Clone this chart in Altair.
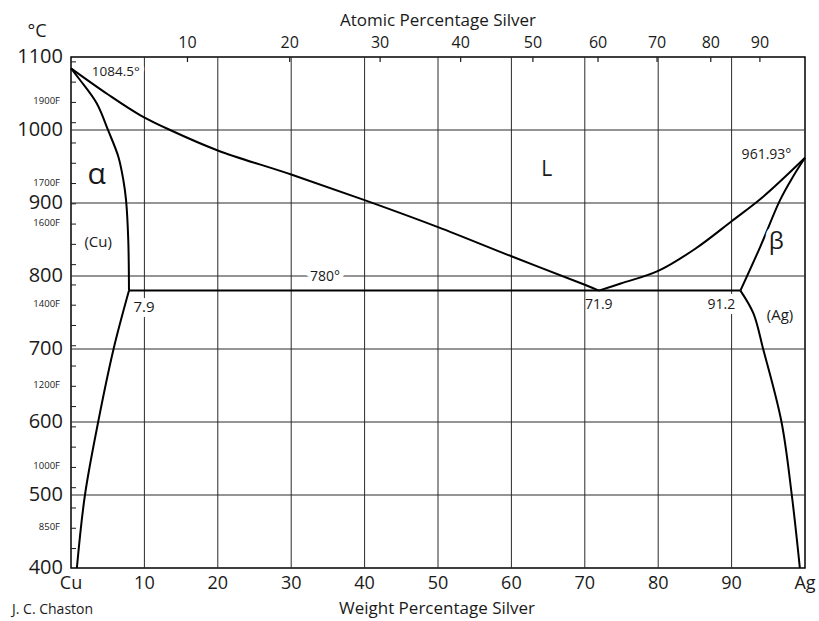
import altair as alt
import pandas as pd

FONT = "Open Sans"
INK = "#1a1a1a"
W, H = 734, 511

# ---- phase boundaries (weight % Ag, temperature °C) ----
liq_cu_wt = [0, 5, 9.4, 13.5, 20, 30, 40, 50, 60, 70, 71.9]
liq_cu_t = [1084.5, 1049, 1020.5, 1000, 972, 939, 904, 867, 827, 788, 780]
liq_ag_wt = [71.9, 75, 80, 85, 90, 94.3, 100]
liq_ag_t = [780, 790, 807, 837, 875, 908.6, 961.93]
sol_cu_wt = [0, 1.23, 3.5, 5.08, 6.45, 7.13, 7.5, 7.8, 7.9]
sol_cu_t = [1084.5, 1068.5, 1036.6, 999, 963.4, 931.5, 904, 850, 780]
solv_cu_wt = [7.9, 5.8, 3.7, 1.9, 0.8]
solv_cu_t = [780, 700, 600, 500, 400]
sol_ag_wt = [100, 98.3, 96.6, 93.9, 91.2]
sol_ag_t = [961.93, 935, 904, 840, 780]
solv_ag_wt = [91.2, 92.96, 94.3, 96.8, 98.2, 99.3]
solv_ag_t = [780, 749, 700, 600, 500, 400]
eut_wt = [7.9, 91.2]
eut_t = [780, 780]

# ---- axes ----
wt_ticks = list(range(0, 101, 10))
wt_labels = ["Cu", "10", "20", "30", "40", "50", "60", "70", "80", "90", "Ag"]
t_ticks = list(range(400, 1101, 100))
atomic_ticks = [10, 20, 30, 40, 50, 60, 70, 80, 90]
M_AG, M_CU = 107.87, 63.546
f_ticks = list(range(800, 2001, 50))
f_labels = [1900, 1700, 1600, 1400, 1200, 1000, 850]

# ---- annotations ----
ann_text = ["1084.5°", "961.93°", "780°", "7.9", "91.2", "(Cu)", "(Ag)", "α", "β", "L"]
ann_wt = [6.1, 94.75, 34.6, 9.95, 88.6, 3.7, 96.6, 3.5, 96.1, 64.8]
ann_t = [1079.5, 966, 799, 758, 760, 847, 746.6, 938, 847, 945]
ann_size = [13.5, 14, 14, 15, 14, 15, 15, 30, 24, 21]
plain_text = ["71.9"]
plain_wt = [71.9]
plain_t = [760]
plain_size = [14]

XS = alt.Scale(domain=[0, 100], nice=False, zero=False)
YS = alt.Scale(domain=[400, 1100], nice=False, zero=False)


def X(field):
    return alt.X(field, scale=XS, axis=None)


def Y(field):
    return alt.Y(field, scale=YS, axis=None)


# grid lines
vgrid = pd.DataFrame({"wt": wt_ticks[1:-1]})
hgrid = pd.DataFrame({"t": t_ticks[1:-1]})
vgrid_layer = alt.Chart(vgrid).mark_rule(color="#2a2a2a", strokeWidth=1).encode(
    x=X("wt:Q"), y=alt.value(0), y2=alt.value(H))
hgrid_layer = alt.Chart(hgrid).mark_rule(color="#2a2a2a", strokeWidth=1).encode(
    y=Y("t:Q"), x=alt.value(0), x2=alt.value(W))

# axis labels
xl = pd.DataFrame({"wt": wt_ticks, "lab": wt_labels})
xlab_layer = alt.Chart(xl).mark_text(font=FONT, fontSize=18, align="center",
                                     baseline="middle", color=INK).encode(
    x=X("wt:Q"), y=alt.value(H + 16), text="lab:N")
yl = pd.DataFrame({"t": t_ticks})
yl["lab"] = yl["t"].astype(str)
ylab_layer = alt.Chart(yl).mark_text(font=FONT, fontSize=20, align="right",
                                     baseline="middle", color=INK).encode(
    y=Y("t:Q"), x=alt.value(-8), text="lab:N")

rows = []
for name, ws, ts in [("liq_cu", liq_cu_wt, liq_cu_t), ("liq_ag", liq_ag_wt, liq_ag_t),
                     ("sol_cu", sol_cu_wt, sol_cu_t), ("solv_cu", solv_cu_wt, solv_cu_t),
                     ("sol_ag", sol_ag_wt, sol_ag_t), ("solv_ag", solv_ag_wt, solv_ag_t),
                     ("eut", eut_wt, eut_t)]:
    for i, (w, t) in enumerate(zip(ws, ts)):
        rows.append({"seg": name, "i": i, "wt": w, "t": t})
curves = pd.DataFrame(rows)

curve_layer = alt.Chart(curves).mark_line(color="black", strokeWidth=2,
                                          interpolate="catmull-rom").encode(
    x=X("wt:Q"), y=Y("t:Q"), detail="seg:N", order="i:Q")

# Fahrenheit ticks and labels on left edge
fdf = pd.DataFrame({"F": f_ticks})
fdf["c"] = (fdf["F"] - 32) * 5 / 9
f_tick_layer = alt.Chart(fdf).mark_rule(color=INK, strokeWidth=1).encode(
    x=alt.value(0), x2=alt.value(5), y=Y("c:Q"))
fl = pd.DataFrame({"F": f_labels})
fl["c"] = (fl["F"] - 32) * 5 / 9
fl["lab"] = fl["F"].astype(str) + "F"
f_lab_layer = alt.Chart(fl).mark_text(font=FONT, fontSize=9.5, align="right",
                                      baseline="middle", dy=-1, color=INK).encode(
    x=alt.value(-11), y=Y("c:Q"), text="lab:N")

# Atomic percentage (top) ticks and labels
adf = pd.DataFrame({"a": atomic_ticks})
adf["wt"] = 100 * adf["a"] * M_AG / (adf["a"] * M_AG + (100 - adf["a"]) * M_CU)
adf["lab"] = adf["a"].astype(str)
a_tick_layer = alt.Chart(adf).mark_rule(color=INK, strokeWidth=1.2).encode(
    x=X("wt:Q"), y=alt.value(0), y2=alt.value(5))
a_lab_layer = alt.Chart(adf).mark_text(font=FONT, fontSize=16, align="center",
                                       baseline="middle", color=INK).encode(
    x=X("wt:Q"), y=alt.value(-14), text="lab:N")

ann = pd.DataFrame({"text": ann_text, "wt": ann_wt, "t": ann_t, "size": ann_size})
halo = alt.Chart(ann).mark_text(font=FONT, align="center", baseline="middle",
                                color="white", stroke="white", strokeWidth=10,
                                strokeJoin="round").encode(
    x=X("wt:Q"), y=Y("t:Q"), text="text:N",
    size=alt.Size("size:Q", scale=None, legend=None))
ann_layer = alt.Chart(ann).mark_text(font=FONT, align="center", baseline="middle",
                                     color=INK).encode(
    x=X("wt:Q"), y=Y("t:Q"), text="text:N",
    size=alt.Size("size:Q", scale=None, legend=None))
plain = pd.DataFrame({"text": plain_text, "wt": plain_wt, "t": plain_t, "size": plain_size})
plain_layer = alt.Chart(plain).mark_text(font=FONT, align="center", baseline="middle",
                                         color=INK).encode(
    x=X("wt:Q"), y=Y("t:Q"), text="text:N",
    size=alt.Size("size:Q", scale=None, legend=None))

# Titles (placed in pixel space relative to the plot area)
title_text = ["Atomic Percentage Silver", "Weight Percentage Silver", "J. C. Chaston", "°C"]
title_px = [367, 366, -59, -34]
title_py = [-36, 552, 553, -25]
title_size = [17, 17, 14, 18]
title_align = ["center", "center", "left", "center"]
title_layers = []
for txt, px, py, sz, al in zip(title_text, title_px, title_py, title_size, title_align):
    title_layers.append(
        alt.Chart(pd.DataFrame({"t": [txt]})).mark_text(
            font=FONT, fontSize=sz, align=al, baseline="middle", color=INK
        ).encode(x=alt.value(px), y=alt.value(py), text="t:N")
    )

chart = alt.layer(
    vgrid_layer, hgrid_layer, xlab_layer, ylab_layer,
    curve_layer, f_tick_layer, f_lab_layer, a_tick_layer, a_lab_layer,
    halo, ann_layer, plain_layer, *title_layers,
).properties(
    width=W, height=H,
    padding={"left": 71, "top": 57, "right": 14, "bottom": 53},
    autosize=alt.AutoSizeParams(type="none"),
    background="white",
).configure_view(stroke="black", strokeWidth=1.5)

chart.save("out.html", embed_options={"renderer": "svg", "actions": False})
